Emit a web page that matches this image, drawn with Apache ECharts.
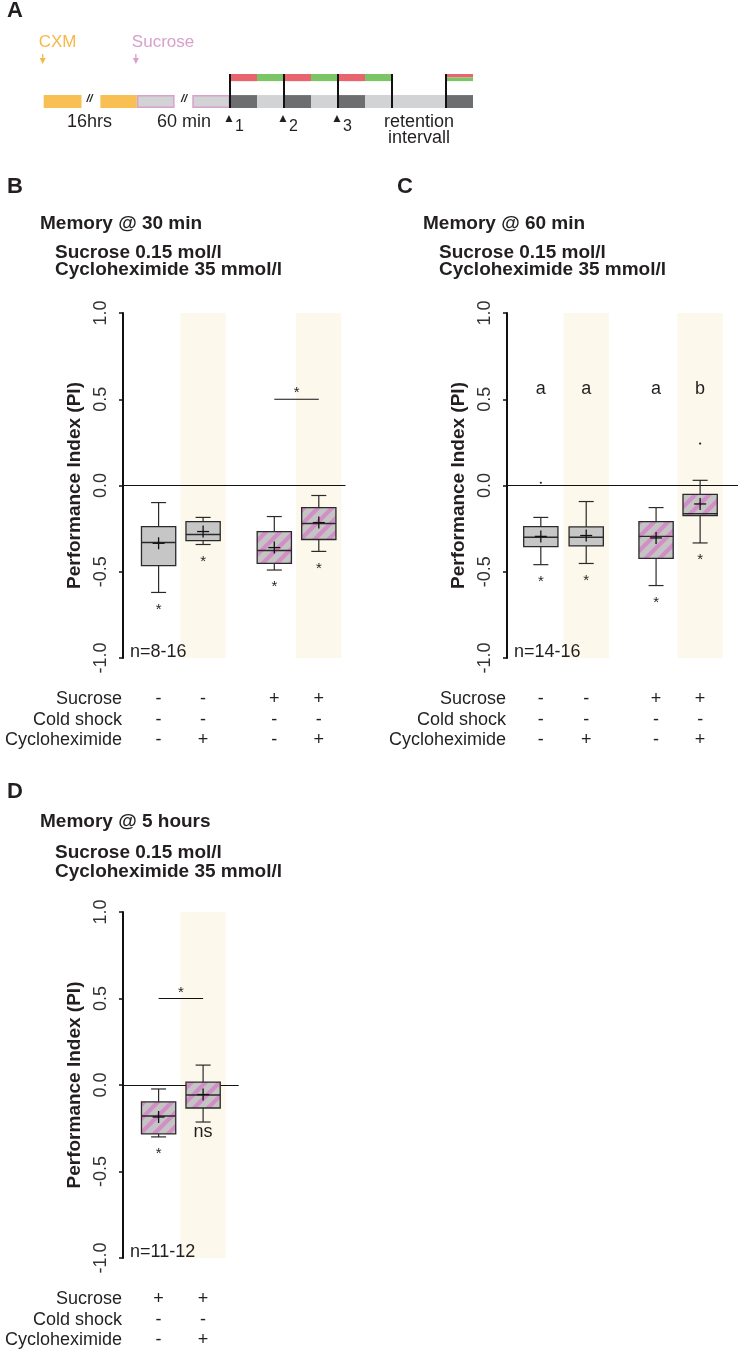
<!DOCTYPE html>
<html><head><meta charset="utf-8">
<script src="https://cdn.jsdelivr.net/npm/echarts@6/dist/echarts.min.js"></script>
<style>html,body{margin:0;padding:0;background:#fff;} #chart{width:738px;height:1350px;}</style>
</head><body><div id="chart"></div>
<script>
// ---------------- Panel A: protocol timeline (slot units, 0 = first training trial) -------------
const cxmFeeding = [[-6.9, -5.5], [-4.8, -3.45]];
const sucroseFeeding = [[-3.45, -2.05], [-1.4, 0]];
const darkSlots = [[0, 1], [2, 3], [4, 5], [8, 9]];
const lightSlots = [[1, 2], [3, 4], [5, 8]];
const csPlusSlots = [[0, 1], [2, 3], [4, 5]];
const csMinusSlots = [[1, 2], [3, 4], [5, 6]];
const testSlot = [8, 9];
const trialMarks = [0, 2, 4, 6, 8];
const trialLabels = ['1', '2', '3'];
const breakMarks = [-5.2, -1.7];
const breakLabels = ['16hrs', '60 min'];
const retentionAt = 7;
const retentionLabel = ['retention', 'intervall'];

// ---------------- Shared labels ----------------
const rowNames = ['Sucrose', 'Cold shock', 'Cycloheximide'];
const yTickLabels = ['-1.0', '-0.5', '0.0', '0.5', '1.0'];
const yName = 'Performance Index (PI)';

// ---------------- Panel B: Memory @ 30 min ----------------
const b_sucrose = ['-', '-', '+', '+'];
const b_cold = ['-', '-', '-', '-'];
const b_chx = ['-', '+', '-', '+'];
const b_whiskerLow = [-0.62, -0.342, -0.49, -0.382];
const b_q1 = [-0.464, -0.319, -0.452, -0.313];
const b_median = [-0.33, -0.284, -0.377, -0.22];
const b_q3 = [-0.238, -0.209, -0.267, -0.128];
const b_whiskerHigh = [-0.099, -0.185, -0.18, -0.058];
const b_mean = [-0.335, -0.267, -0.36, -0.215];
const b_stars = ['*', '*', '*', '*'];
const b_pair = [2, 3];
const b_pairMark = '*';
const b_n = 'n=8-16';

// ---------------- Panel C: Memory @ 60 min ----------------
const c_sucrose = ['-', '-', '+', '+'];
const c_cold = ['-', '-', '-', '-'];
const c_chx = ['-', '+', '-', '+'];
const c_whiskerLow = [-0.459, -0.452, -0.58, -0.333];
const c_q1 = [-0.354, -0.35, -0.423, -0.174];
const c_median = [-0.30, -0.30, -0.295, -0.163];
const c_q3 = [-0.238, -0.24, -0.209, -0.052];
const c_whiskerHigh = [-0.185, -0.093, -0.128, 0.03];
const c_mean = [-0.295, -0.29, -0.304, -0.107];
const c_outlierGroup = [0, 3];
const c_outlierValue = [0.016, 0.243];
const c_stars = ['*', '*', '*', '*'];
const c_letters = ['a', 'a', 'a', 'b'];
const c_n = 'n=14-16';

// ---------------- Panel D: Memory @ 5 hours ----------------
const d_sucrose = ['+', '+'];
const d_cold = ['-', '-'];
const d_chx = ['-', '+'];
const d_whiskerLow = [-0.30, -0.214];
const d_q1 = [-0.283, -0.133];
const d_median = [-0.179, -0.058];
const d_q3 = [-0.098, 0.017];
const d_whiskerHigh = [-0.023, 0.115];
const d_mean = [-0.185, -0.055];
const d_stars = ['*', 'ns'];
const d_pair = [0, 1];
const d_pairMark = '*';
const d_n = 'n=11-12';

// ---------------- Layout ----------------
const FONT = '"Liberation Sans", Arial, Helvetica, sans-serif';
const INK = '#231F20';
const U = 44.5; // px per group slot
const layouts = [
  { left: 123, top: 313, height: 345, xmax: 5.0, pos: [0.8, 1.8, 3.4, 4.4] },
  { left: 507, top: 313, height: 345, xmax: 5.19, pos: [0.76, 1.78, 3.35, 4.34] },
  { left: 123, top: 912, height: 346, xmax: 2.6, pos: [0.8, 1.8] }
];
const letterLevel = 0.5;

// hatch pattern
const T = 14;
const hatch = document.createElement('canvas');
hatch.width = T; hatch.height = T;
(function () {
  const g = hatch.getContext('2d');
  g.fillStyle = '#C4C4C4'; g.fillRect(0, 0, T, T);
  g.strokeStyle = '#D28FC6'; g.lineWidth = 4.2;
  [[-T / 2, T / 2, T / 2, -T / 2], [0, T, T, 0], [T / 2, 1.5 * T, 1.5 * T, T / 2]].forEach(l => {
    g.beginPath(); g.moveTo(l[0], l[1]); g.lineTo(l[2], l[3]); g.stroke();
  });
})();

function txt(text, x, y, size, opts) {
  opts = opts || {};
  return {
    type: 'text', silent: true,
    style: {
      text: text, x: x, y: y,
      font: (opts.weight || 'normal') + ' ' + size + 'px ' + FONT,
      fill: opts.fill || INK,
      align: opts.align || 'center', textAlign: opts.align || 'center',
      verticalAlign: opts.va || 'middle', textVerticalAlign: opts.va || 'middle'
    }
  };
}

function panelSeries(gi, L, P) {
  const series = [];
  series.push({
    type: 'custom', xAxisIndex: gi, yAxisIndex: gi, z: 1, silent: true, clip: false,
    data: P.chx.map((c, i) => c === '+' ? [L.pos[i], 0] : null).filter(Boolean),
    renderItem: function (params, api) {
      const x = api.value(0);
      const a = api.coord([x - 0.51, 1]);
      const b = api.coord([x + 0.51, -1]);
      return { type: 'rect', shape: { x: a[0], y: a[1], width: b[0] - a[0], height: b[1] - a[1] }, style: { fill: '#FDF8EC' } };
    },
    markLine: {
      silent: true, symbol: 'none', animation: false,
      label: { show: false },
      lineStyle: { color: '#111', width: 1, type: 'solid' },
      data: [{ yAxis: 0 }]
    }
  });
  series.push({
    type: 'custom', xAxisIndex: gi, yAxisIndex: gi, z: 5, silent: true, clip: false,
    data: P.lo.map((v, i) => [L.pos[i], P.lo[i], P.q1[i], P.med[i], P.q3[i], P.hi[i], P.mean[i], P.sucrose[i] === '+' ? 1 : 0]),
    renderItem: function (params, api) {
      const x = api.value(0);
      const pLo = api.coord([x, api.value(1)]);
      const pQ1 = api.coord([x, api.value(2)]);
      const pMed = api.coord([x, api.value(3)]);
      const pQ3 = api.coord([x, api.value(4)]);
      const pHi = api.coord([x, api.value(5)]);
      const pMean = api.coord([x, api.value(6)]);
      const hw = api.size([0.77, 0])[0] / 2;
      const cw = 7.5;
      const cx = pLo[0];
      const st = { stroke: '#2A2A2A', lineWidth: 1.2, fill: null };
      return {
        type: 'group', children: [
          { type: 'line', shape: { x1: cx, y1: pHi[1], x2: cx, y2: pLo[1] }, style: st },
          { type: 'line', shape: { x1: cx - cw, y1: pHi[1], x2: cx + cw, y2: pHi[1] }, style: st },
          { type: 'line', shape: { x1: cx - cw, y1: pLo[1], x2: cx + cw, y2: pLo[1] }, style: st },
          { type: 'rect', shape: { x: cx - hw, y: pQ3[1], width: 2 * hw, height: pQ1[1] - pQ3[1] },
            style: { fill: api.value(7) ? { image: hatch, repeat: 'repeat' } : '#C6C6C6', stroke: '#2A2A2A', lineWidth: 1.3 } },
          { type: 'line', shape: { x1: cx - hw, y1: pMed[1], x2: cx + hw, y2: pMed[1] }, style: { stroke: '#2A2A2A', lineWidth: 1.4 } },
          { type: 'line', shape: { x1: cx - 6, y1: pMean[1], x2: cx + 6, y2: pMean[1] }, style: { stroke: '#111', lineWidth: 1.3 } },
          { type: 'line', shape: { x1: cx, y1: pMean[1] - 6, x2: cx, y2: pMean[1] + 6 }, style: { stroke: '#111', lineWidth: 1.3 } }
        ]
      };
    }
  });
  series.push({
    type: 'custom', xAxisIndex: gi, yAxisIndex: gi, z: 6, silent: true, clip: false,
    data: [[0, 0]],
    renderItem: function (params, api) {
      const ch = [];
      const base = api.coord([0, -1]);
      ch.push(txt(P.n, base[0] + 7, base[1] - 6, 18, { align: 'left' }));
      const rows = [P.sucrose, P.cold, P.chx];
      const offs = [41, 62, 82];
      rowNames.forEach((name, r) => {
        ch.push(txt(name, base[0] - 1, base[1] + offs[r], 18, { align: 'right' }));
        rows[r].forEach((s, i) => {
          const p = api.coord([L.pos[i], -1]);
          ch.push(txt(s, p[0], base[1] + offs[r], 18));
        });
      });
      P.stars.forEach((s, i) => {
        const p = api.coord([L.pos[i], P.lo[i]]);
        if (s === '*') ch.push(txt(s, p[0], p[1] + 17, 15));
        else ch.push(txt(s, p[0], p[1] + 10, 18));
      });
      if (P.letters) P.letters.forEach((s, i) => {
        const p = api.coord([L.pos[i], letterLevel]);
        ch.push(txt(s, p[0], p[1] - 10, 18));
      });
      if (P.pair) {
        const a = api.coord([L.pos[P.pair[0]], 0.5]);
        const b = api.coord([L.pos[P.pair[1]], 0.5]);
        ch.push({ type: 'line', shape: { x1: a[0], y1: a[1], x2: b[0], y2: b[1] }, style: { stroke: '#111', lineWidth: 1.2 } });
        ch.push(txt(P.pairMark, (a[0] + b[0]) / 2, a[1] - 6, 15));
      }
      if (P.outG) P.outG.forEach((g, k) => {
        const p = api.coord([L.pos[g], P.outV[k]]);
        ch.push({ type: 'circle', shape: { cx: p[0], cy: p[1], r: 1.1 }, style: { fill: '#222' } });
      });
      return { type: 'group', children: ch };
    }
  });
  return series;
}

const panels = [
  { sucrose: b_sucrose, cold: b_cold, chx: b_chx, lo: b_whiskerLow, q1: b_q1, med: b_median, q3: b_q3, hi: b_whiskerHigh, mean: b_mean, stars: b_stars, pair: b_pair, pairMark: b_pairMark, n: b_n },
  { sucrose: c_sucrose, cold: c_cold, chx: c_chx, lo: c_whiskerLow, q1: c_q1, med: c_median, q3: c_q3, hi: c_whiskerHigh, mean: c_mean, stars: c_stars, letters: c_letters, outG: c_outlierGroup, outV: c_outlierValue, n: c_n },
  { sucrose: d_sucrose, cold: d_cold, chx: d_chx, lo: d_whiskerLow, q1: d_q1, med: d_median, q3: d_q3, hi: d_whiskerHigh, mean: d_mean, stars: d_stars, pair: d_pair, pairMark: d_pairMark, n: d_n }
];

const grid = layouts.map(L => ({ left: L.left, top: L.top, width: L.xmax * U, height: L.height, containLabel: false }));
grid.push({ left: 14, top: 74, width: 17 * 27, height: 34 });

const xAxis = layouts.map((L, i) => ({ gridIndex: i, type: 'value', min: 0, max: L.xmax, show: false }));
xAxis.push({ gridIndex: 3, type: 'value', min: -8, max: 9, show: false });

const yAxis = layouts.map((L, i) => ({
  gridIndex: i, type: 'value', min: -1, max: 1, interval: 0.5,
  axisLine: { show: true, lineStyle: { color: '#111', width: 2 } },
  axisTick: { show: true, length: 4, lineStyle: { color: '#111', width: 1.5 } },
  axisLabel: { rotate: 90, margin: 13, fontSize: 18, color: '#333', fontFamily: FONT,
    formatter: v => yTickLabels[Math.round((v + 1) * 2)] },
  splitLine: { show: false },
  name: yName, nameLocation: 'middle', nameGap: 39,
  nameTextStyle: { fontWeight: 'bold', fontSize: 19, color: INK, fontFamily: FONT }
}));
yAxis.push({ gridIndex: 3, type: 'value', min: 0, max: 1, show: false });

let series = [];
panels.forEach((P, i) => { series = series.concat(panelSeries(i, layouts[i], P)); });

series.push({
  type: 'custom', xAxisIndex: 3, yAxisIndex: 3, silent: true, clip: false,
  data: [[0, 0]],
  renderItem: function (params, api) {
    const ch = [];
    const rect = (x0, x1, y0, y1, style) => {
      const a = api.coord([x0, y1]), b = api.coord([x1, y0]);
      ch.push({ type: 'rect', shape: { x: a[0], y: a[1], width: b[0] - a[0], height: b[1] - a[1] }, style: style });
    };
    const barTop = 0.38, odorLow = 0.79, odorMid = 0.9;
    cxmFeeding.forEach(s => rect(s[0], s[1], 0, barTop, { fill: '#F8BF52' }));
    sucroseFeeding.forEach(s => rect(s[0] + 0.03, s[1] - 0.03, 0.02, barTop - 0.02, { fill: '#D1D3D4', stroke: '#D7A2CE', lineWidth: 1.5 }));
    darkSlots.forEach(s => rect(s[0], s[1], 0, barTop, { fill: '#6D6E70' }));
    lightSlots.forEach(s => rect(s[0], s[1], 0, barTop, { fill: '#D1D3D4' }));
    csPlusSlots.forEach(s => rect(s[0], s[1], odorLow, 1, { fill: '#E8656F' }));
    csMinusSlots.forEach(s => rect(s[0], s[1], odorLow, 1, { fill: '#7CC566' }));
    rect(testSlot[0], testSlot[1], odorMid, 1, { fill: '#E8656F' });
    rect(testSlot[0], testSlot[1], odorLow, odorMid, { fill: '#7CC566' });
    trialMarks.forEach(m => {
      const a = api.coord([m, 0]), b = api.coord([m, 1]);
      ch.push({ type: 'line', shape: { x1: a[0], y1: a[1], x2: b[0], y2: b[1] }, style: { stroke: '#111', lineWidth: 2 } });
    });
    breakMarks.forEach((m, i) => {
      const p = api.coord([m, 0]);
      ch.push(txt('//', p[0], p[1] - 9, 11, { weight: 'italic bold', fill: '#222' }));
      ch.push(txt(breakLabels[i], p[0], p[1] + 14, 18));
    });
    trialLabels.forEach((t, i) => {
      const p = api.coord([trialMarks[i], 0]);
      ch.push(txt('\u25B2', p[0] - 1, p[1] + 11, 12));
      ch.push(txt(t, p[0] + 5, p[1] + 19, 16, { align: 'left' }));
    });
    const r = api.coord([retentionAt, 0]);
    ch.push(txt(retentionLabel[0], r[0], r[1] + 14, 18));
    ch.push(txt(retentionLabel[1], r[0], r[1] + 30, 18));
    const arrow = (x, color, label) => {
      const top = api.coord([x, 1]);
      const ax = top[0] - 1;
      ch.push(txt(label, top[0] - 5, top[1] - 32, 17, { align: 'left', fill: color }));
      ch.push({ type: 'line', shape: { x1: ax, y1: top[1] - 20, x2: ax, y2: top[1] - 14 }, style: { stroke: color, lineWidth: 1.3 } });
      ch.push({ type: 'polygon', shape: { points: [[ax - 3, top[1] - 16], [ax + 3, top[1] - 16], [ax, top[1] - 10]] }, style: { fill: color } });
    };
    arrow(cxmFeeding[0][0], '#F6B847', 'CXM');
    arrow(sucroseFeeding[0][0], '#D9A0CD', 'Sucrose');
    return { type: 'group', children: ch };
  }
});

const graphic = [
  { type: 'text', left: 7, top: 0, style: { text: 'A', font: 'bold 22px ' + FONT, fill: INK } },
  { type: 'text', left: 7, top: 176, style: { text: 'B', font: 'bold 22px ' + FONT, fill: INK } },
  { type: 'text', left: 397, top: 176, style: { text: 'C', font: 'bold 22px ' + FONT, fill: INK } },
  { type: 'text', left: 7, top: 781, style: { text: 'D', font: 'bold 22px ' + FONT, fill: INK } },
  { type: 'text', left: 40, top: 214, style: { text: 'Memory @ 30 min', font: 'bold 19px ' + FONT, fill: INK } },
  { type: 'text', left: 55, top: 243, style: { text: 'Sucrose 0.15 mol/l\nCycloheximide 35 mmol/l', font: 'bold 19px ' + FONT, lineHeight: 17, fill: INK } },
  { type: 'text', left: 423, top: 214, style: { text: 'Memory @ 60 min', font: 'bold 19px ' + FONT, fill: INK } },
  { type: 'text', left: 439, top: 243, style: { text: 'Sucrose 0.15 mol/l\nCycloheximide 35 mmol/l', font: 'bold 19px ' + FONT, lineHeight: 17, fill: INK } },
  { type: 'text', left: 40, top: 812, style: { text: 'Memory @ 5 hours', font: 'bold 19px ' + FONT, fill: INK } },
  { type: 'text', left: 55, top: 843, style: { text: 'Sucrose 0.15 mol/l\nCycloheximide 35 mmol/l', font: 'bold 19px ' + FONT, lineHeight: 19, fill: INK } }
];

const chart = echarts.init(document.getElementById('chart'), null, { renderer: 'canvas' });
chart.setOption({ animation: false, backgroundColor: '#fff', grid, xAxis, yAxis, series, graphic });
</script></body></html>
